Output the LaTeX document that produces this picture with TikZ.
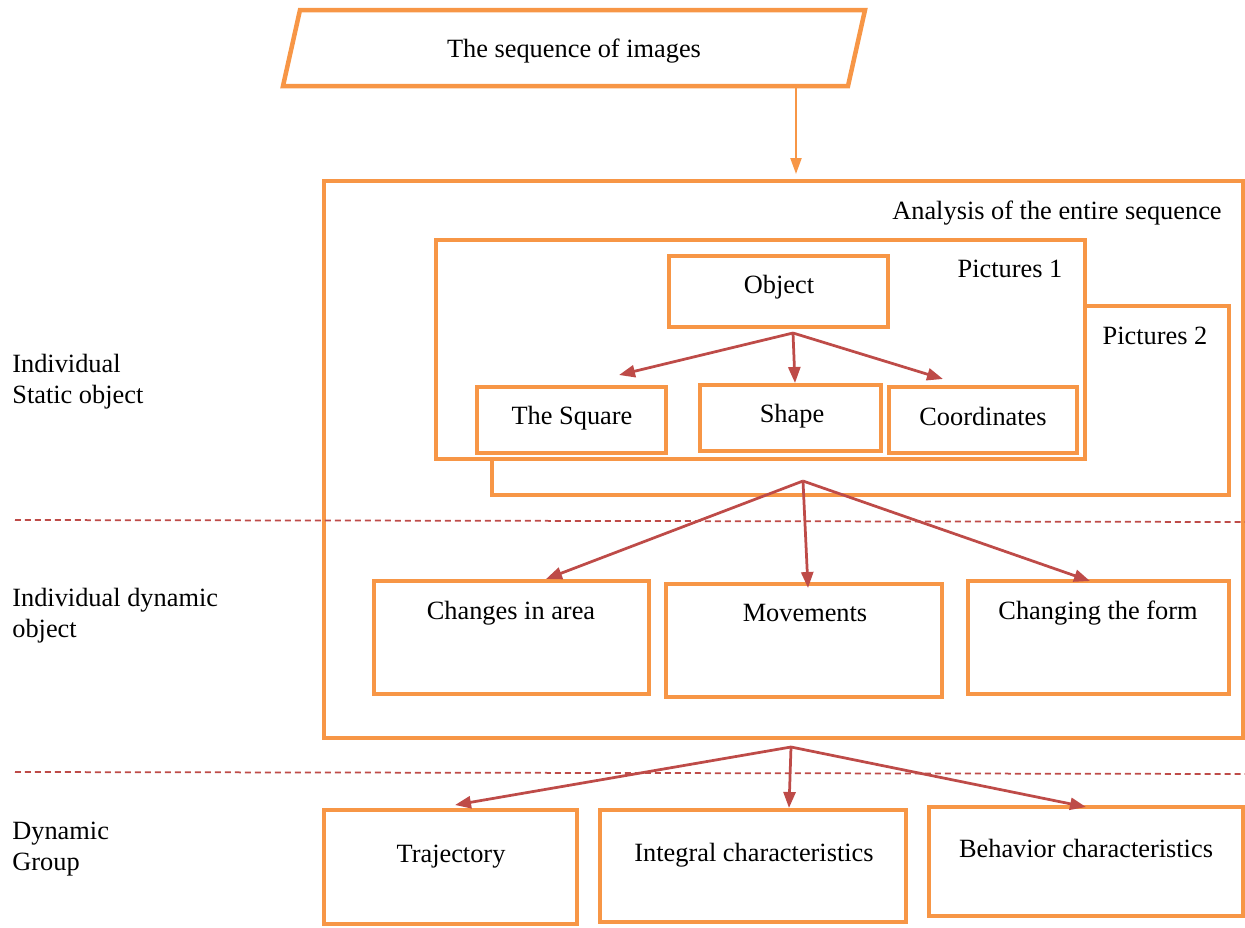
\documentclass[tikz,border=0pt]{standalone}
\usepackage{fontspec}
\setmainfont{Liberation Serif}
\usetikzlibrary{arrows.meta,fit}
\definecolor{org}{HTML}{F79646}
\definecolor{rd}{HTML}{BE4B48}
\tikzset{
  obox/.style={draw=org, line width=0.085cm, inner sep=0pt},
  bigbox/.style={draw=org, line width=0.07cm, inner sep=0pt},
  txt/.style={font=\fontsize{15}{18}\selectfont, inner sep=0pt, anchor=base},
  side/.style={font=\fontsize{15}{18}\selectfont, inner sep=0pt, anchor=base west},
  rarrow/.style={draw=rd, line width=0.055cm, -{Triangle[length=0.32cm,width=0.24cm]}},
  oarrow/.style={draw=org, line width=0.045cm, -{Triangle[length=0.32cm,width=0.22cm]}},
  sep/.style={draw=rd, line width=0.035cm, dash pattern=on 0.12cm off 0.08cm}
}
\begin{document}
\begin{tikzpicture}[x=0.02cm,y=-0.02cm]
\useasboundingbox (0,0) rectangle (1245,927);
% input parallelogram
\draw[org, line width=0.09cm] (300,10) -- (865,10) -- (848,86) -- (283,86) -- cycle;
\node[txt] (seq) at (574,57) {The sequence of images};
\coordinate (seqout) at (796,86);
\coordinate (bigin) at (796,174);
% big analysis box
\node[bigbox, fit={(324,181) (1243,738)}] (big) {};
\node[txt, anchor=base east] (bigl) at (1222,219) {Analysis of the entire sequence};
% pictures 2 and 1
\node[obox, fit={(492,306) (1229,495)}] (p2) {};
\node[txt] (p2l) at (1155,344) {Pictures 2};
\node[obox, fill=white, fit={(436,240) (1085,459)}] (p1) {};
\node[txt] (p1l) at (1010,277) {Pictures 1};
% inner boxes
\node[obox, fit={(669,256) (888,327)}] (obj) {};
\node[txt] (objl) at (779,293) {Object};
\node[obox, fit={(477,387) (666,453)}] (sq) {};
\node[txt] (sql) at (572,424) {The Square};
\node[obox, fit={(700,385) (881,451)}] (sh) {};
\node[txt] (shl) at (792,422) {Shape};
\node[obox, fit={(889,387) (1077,453)}] (co) {};
\node[txt] (col) at (983,425) {Coordinates};
% dynamic object boxes
\node[obox, fit={(374,581) (649,694)}] (ca) {};
\node[txt] (cal) at (511,619) {Changes in area};
\node[obox, fit={(666,584) (942,697)}] (mv) {};
\node[txt] (mvl) at (805,621) {Movements};
\node[obox, fit={(968,581) (1229,694)}] (cf) {};
\node[txt] (cfl) at (1098,619) {Changing the form};
% group boxes
\node[obox, fit={(324,810) (577,924)}] (tr) {};
\node[txt] (trl) at (451,862) {Trajectory};
\node[obox, fit={(600,810) (906,922)}] (ic) {};
\node[txt] (icl) at (754,861) {Integral characteristics};
\node[obox, fit={(929,807) (1243,916)}] (bc) {};
\node[txt] (bcl) at (1086,857) {Behavior characteristics};
% side labels
\node[side] (s1) at (12,372) {Individual};
\node[side] (s2) at (12,403) {Static object};
\node[side] (s3) at (12,606) {Individual dynamic};
\node[side] (s4) at (12,637) {object};
\node[side] (s5) at (12,839) {Dynamic};
\node[side] (s6) at (12,870) {Group};
% separators
\draw[sep] (15,520) -- (1245,522);
\draw[sep] (15,772) -- (1245,774);
% connectors
\draw[oarrow] (seqout) -- (bigin);
\coordinate (f1) at (793,333);
\coordinate (t11) at (619,375);
\coordinate (t12) at (795,383);
\coordinate (t13) at (943,379);
\draw[rarrow] (f1) -- (t11);
\draw[rarrow] (f1) -- (t12);
\draw[rarrow] (f1) -- (t13);
\coordinate (f2) at (803,481);
\coordinate (t21) at (546,579);
\coordinate (t22) at (808,588);
\coordinate (t23) at (1090,581);
\draw[rarrow] (f2) -- (t21);
\draw[rarrow] (f2) -- (t22);
\draw[rarrow] (f2) -- (t23);
\coordinate (f3) at (791,747);
\coordinate (t31) at (455,805);
\coordinate (t32) at (789,808);
\coordinate (t33) at (1086,807);
\draw[rarrow] (f3) -- (t31);
\draw[rarrow] (f3) -- (t32);
\draw[rarrow] (f3) -- (t33);
\end{tikzpicture}
\end{document}
